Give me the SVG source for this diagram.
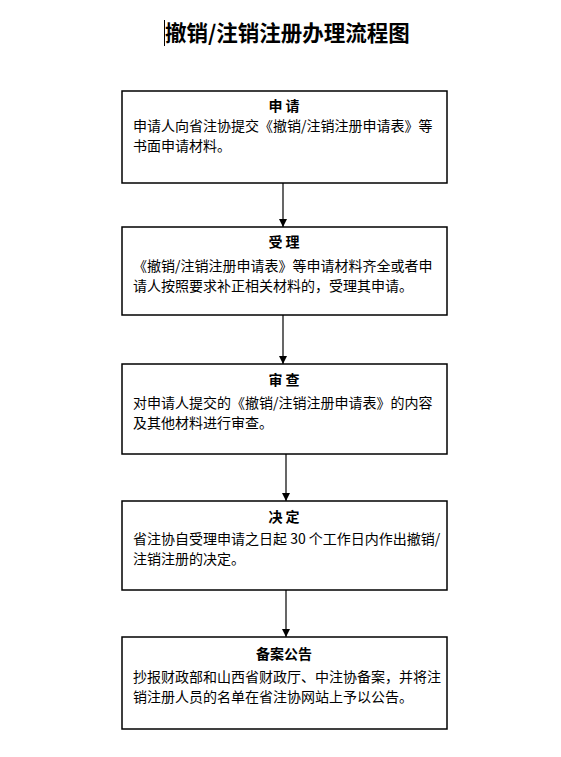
<svg xmlns="http://www.w3.org/2000/svg" width="561" height="757" viewBox="0 0 561 757">
<style>
.box{fill:#fff;stroke:#000;stroke-width:1.5}
.h{font-family:"Noto Sans CJK SC",sans-serif;font-size:14px;font-weight:bold;text-anchor:middle;fill:#000}
.t{font-family:"Noto Sans CJK SC",sans-serif;font-size:14px;fill:#000}
.title{font-family:"Noto Sans CJK SC",sans-serif;font-size:21.5px;font-weight:bold;fill:#000}
.c{stroke:#000;stroke-width:1.2;fill:none}
</style>
<defs>
<marker id="arr" markerWidth="8" markerHeight="8" refX="8" refY="4" orient="auto" markerUnits="userSpaceOnUse">
<path d="M0,0 L8,4 L0,8 Z" fill="#000"/>
</marker>
</defs>
<rect width="561" height="757" fill="#fff"/>
<line x1="164.5" y1="20" x2="164.5" y2="46" stroke="#000" stroke-width="1"/>
<text class="title" x="165" y="41">撤销/注销注册办理流程图</text>
<g id="connectors">
<line class="c" x1="283" y1="183" x2="283" y2="227" marker-end="url(#arr)"/>
<line class="c" x1="283" y1="315" x2="283" y2="364" marker-end="url(#arr)"/>
<line class="c" x1="286" y1="454" x2="286" y2="501" marker-end="url(#arr)"/>
<line class="c" x1="286" y1="590" x2="286" y2="637" marker-end="url(#arr)"/>
</g>
<g id="n1">
<rect class="box" x="122" y="91" width="325" height="92"/>
<text class="h" x="284" y="111">申&#160;请</text>
<text class="t" x="133" y="131">申请人向省注协提交《撤销/注销注册申请表》等</text>
<text class="t" x="133" y="151">书面申请材料。</text>
</g>
<g id="n2">
<rect class="box" x="122" y="227" width="325" height="88"/>
<text class="h" x="284" y="247">受&#160;理</text>
<text class="t" x="133" y="271">《撤销/注销注册申请表》等申请材料齐全或者申</text>
<text class="t" x="133" y="291">请人按照要求补正相关材料的，受理其申请。</text>
</g>
<g id="n3">
<rect class="box" x="122" y="364" width="325" height="90"/>
<text class="h" x="284" y="385">审&#160;查</text>
<text class="t" x="133" y="408">对申请人提交的《撤销/注销注册申请表》的内容</text>
<text class="t" x="133" y="428">及其他材料进行审查。</text>
</g>
<g id="n4">
<rect class="box" x="122" y="501" width="325" height="89"/>
<text class="h" x="284" y="522">决&#160;定</text>
<text class="t" x="133" y="544">省注协自受理申请之日起 30 个工作日内作出撤销/</text>
<text class="t" x="133" y="564">注销注册的决定。</text>
</g>
<g id="n5">
<rect class="box" x="122" y="637" width="325" height="92"/>
<text class="h" x="284" y="659">备案公告</text>
<text class="t" x="133" y="682">抄报财政部和山西省财政厅、中注协备案，并将注</text>
<text class="t" x="133" y="702">销注册人员的名单在省注协网站上予以公告。</text>
</g>
</svg>
